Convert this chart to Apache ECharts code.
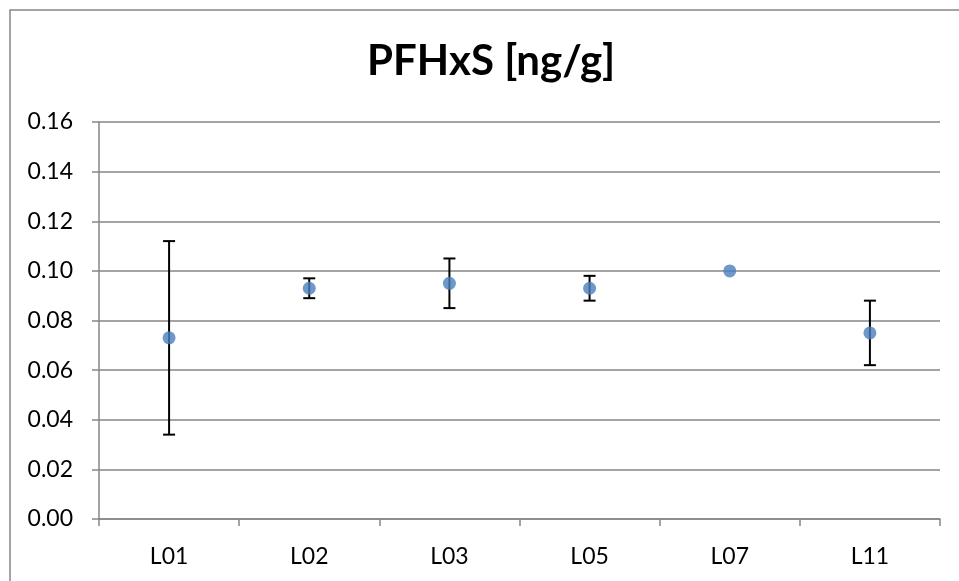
<!DOCTYPE html>
<html>
<head>
<meta charset="utf-8">
<script src="https://cdn.jsdelivr.net/npm/echarts@6/dist/echarts.min.js"></script>
<style>
  html, body { margin: 0; padding: 0; background: #fff; }
  #chart { width: 959px; height: 581px; }
</style>
</head>
<body>
<div id="chart"></div>
<script>
// PFHxS results per laboratory: mean with lower/upper error bounds
const labs = ['L01', 'L02', 'L03', 'L05', 'L07', 'L11'];
const means = [0.073, 0.093, 0.095, 0.093, 0.100, 0.075];
const lowers = [0.034, 0.089, 0.085, 0.088, 0.100, 0.062];
const uppers = [0.112, 0.097, 0.105, 0.098, 0.100, 0.088];
const yTicks = [0, 0.02, 0.04, 0.06, 0.08, 0.10, 0.12, 0.14, 0.16];

const FONT = 'Lato, "Open Sans", sans-serif';
const chart = echarts.init(document.getElementById('chart'));

const errorData = labs.map((l, i) => [i, lowers[i], uppers[i]]);

chart.setOption({
  backgroundColor: '#fff',
  animation: false,
  graphic: [{
    type: 'rect',
    shape: { x: 10, y: 10, width: 960, height: 590 },
    style: { fill: 'none', stroke: '#868686', lineWidth: 1.5 },
    silent: true
  }],
  title: {
    text: 'PFHxS [ng/g]',
    left: 362,
    top: 35,
    textStyle: { fontFamily: FONT, fontSize: 42, fontWeight: 'bold', color: '#000' }
  },
  grid: { left: 99, right: 19, top: 122, bottom: 62 },
  xAxis: {
    type: 'category',
    data: labs,
    boundaryGap: true,
    axisLine: { lineStyle: { color: '#868686', width: 1.5 } },
    axisTick: { show: true, length: 7, lineStyle: { color: '#868686', width: 1.5 } },
    axisLabel: { color: '#000', fontFamily: FONT, fontSize: 23, margin: 26 }
  },
  yAxis: {
    type: 'value',
    min: yTicks[0],
    max: yTicks[yTicks.length - 1],
    interval: 0.02,
    axisLine: { show: true, lineStyle: { color: '#868686', width: 1.5 } },
    axisTick: { show: true, length: 7, lineStyle: { color: '#868686', width: 1.5 } },
    splitLine: { lineStyle: { color: '#868686', width: 1.5 } },
    axisLabel: {
      color: '#000', fontFamily: FONT, fontSize: 23, margin: 26,
      formatter: v => v.toFixed(2)
    }
  },
  series: [
    {
      type: 'custom',
      data: errorData,
      z: 3,
      renderItem: function (params, api) {
        const x = api.value(0);
        const lo = api.coord([x, api.value(1)]);
        const hi = api.coord([x, api.value(2)]);
        if (Math.abs(hi[1] - lo[1]) < 0.5) return null;
        const half = 6;
        const style = { stroke: '#000', lineWidth: 2 };
        return {
          type: 'group',
          children: [
            { type: 'line', shape: { x1: lo[0], y1: lo[1], x2: hi[0], y2: hi[1] }, style },
            { type: 'line', shape: { x1: lo[0] - half, y1: lo[1], x2: lo[0] + half, y2: lo[1] }, style },
            { type: 'line', shape: { x1: hi[0] - half, y1: hi[1], x2: hi[0] + half, y2: hi[1] }, style }
          ]
        };
      }
    },
    {
      type: 'scatter',
      data: means,
      z: 4,
      symbol: 'circle',
      symbolSize: 13,
      itemStyle: { color: '#4a7ebb' }
    }
  ]
});
</script>
</body>
</html>
